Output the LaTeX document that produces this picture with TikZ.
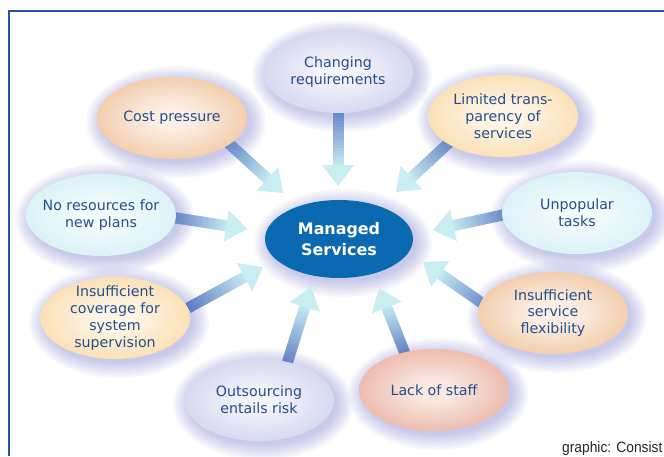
\documentclass[tikz,border=0pt]{standalone}
\usepackage{fontspec}
\setmainfont{DejaVu Sans}
\newfontfamily\condfont[FakeStretch=0.92]{Liberation Sans}
\usetikzlibrary{shapes.geometric,calc}
\pgfdeclarelayer{bg}
\pgfdeclarelayer{glow}
\pgfdeclarelayer{arrows}
\pgfsetlayers{bg,glow,arrows,main}

\definecolor{txtblue}{RGB}{36,78,140}
\definecolor{framec}{RGB}{40,85,165}
\definecolor{msblue}{RGB}{11,105,177}
\definecolor{glowc}{RGB}{115,115,205}
\definecolor{arrdark}{RGB}{95,125,195}
\definecolor{arrlight}{RGB}{200,236,242}
\definecolor{arrhead}{RGB}{200,238,242}
\definecolor{lavout}{RGB}{190,194,230}
\definecolor{lavin}{RGB}{242,243,251}
\definecolor{orgout}{RGB}{236,176,124}
\definecolor{orgin}{RGB}{252,240,230}
\definecolor{yelout}{RGB}{248,206,140}
\definecolor{yelin}{RGB}{254,245,230}
\definecolor{cyaout}{RGB}{198,236,242}
\definecolor{cyain}{RGB}{242,251,252}
\definecolor{salout}{RGB}{226,150,130}
\definecolor{salin}{RGB}{250,232,225}
\colorlet{ecin}{white}
\colorlet{ecout}{gray}
\pgfdeclareradialshading[ecin,ecout]{ellshade}{\pgfpoint{0bp}{0bp}}{color(0bp)=(ecin); color(6bp)=(ecin); color(42bp)=(ecout); color(50bp)=(ecout)}

\makeatletter
\newcommand\gradarrow[2]{%
  \pgfmathanglebetweenpoints{\pgfpointanchor{#1}{center}}{\pgfpointanchor{#2}{center}}%
  \edef\gaang{\pgfmathresult}%
  \pgfpointdiff{\pgfpointanchor{#1}{center}}{\pgfpointanchor{#2}{center}}%
  \pgfmathveclen{\pgf@x}{\pgf@y}%
  \edef\galen{\pgfmathresult}%
  \begin{scope}[shift={(#1)}, rotate=\gaang]
    \foreach \i in {0,...,19} {
      \pgfmathsetmacro\gaA{\i*(\galen-20)/20}
      \pgfmathsetmacro\gaB{(\i+1)*(\galen-20)/20+0.7}
      \pgfmathsetmacro\gaP{100-\i*5}
      \fill[arrdark!\gaP!arrlight] (\gaA pt,-5.5pt) rectangle (\gaB pt,5.5pt);
    }
    \fill[arrhead] (\galen pt-21pt,-16pt) -- (\galen pt,0pt) -- (\galen pt-21pt,16pt) -- cycle;
  \end{scope}}
\makeatother

\newcommand\glowell[3]{% node, rx, ry
  \begin{pgfonlayer}{glow}
    \foreach \k in {1,...,10}
      \fill[glowc, opacity=0.045] ([xshift=4pt,yshift=-4pt]#1.center) ellipse [x radius=#2-2+\k*1.7, y radius=#3-2+\k*1.7];
  \end{pgfonlayer}}

\tikzset{
  ell/.style 2 args={ellipse, minimum width=150pt, minimum height=82pt, inner sep=0pt,
    /utils/exec={\colorlet{ecout}{#1}\colorlet{ecin}{#2}}, shade, shading=ellshade},
  txt/.style={text=txtblue, align=center, inner sep=0pt, font=\fontsize{14.2}{16.8}\selectfont},
}

\begin{document}
\begin{tikzpicture}[x=1pt, y=-1pt]
\useasboundingbox (0,0) rectangle (664,456);
\begin{pgfonlayer}{bg}
\fill[white] (0,0) rectangle (664,456);
\end{pgfonlayer}
\draw[framec, line width=1.6pt] (664,11) -- (9,11) -- (9,456);

% outer ellipses
\node[ell={lavout}{lavin}] (cr) at (338,72) {};
\node[ell={orgout}{orgin}] (cp) at (172,118) {};
\node[ell={yelout}{yelin}] (lt) at (503,116) {};
\node[ell={cyaout}{cyain}] (nr) at (101,215) {};
\node[ell={cyaout}{cyain}] (ut) at (577,213) {};
\node[ell={yelout}{yelin}] (ic) at (115,318) {};
\node[ell={orgout}{orgin}] (sf) at (553,313) {};
\node[ell={lavout}{lavin}] (or) at (259,400) {};
\node[ell={salout}{salin}] (ls) at (434,390) {};
% centre
\node[ellipse, fill=msblue, minimum width=148pt, minimum height=78pt, inner sep=0pt] (ms) at (339,239) {};

% glows
\foreach \n in {cr,cp,lt,nr,ut,ic,sf,or,ls} {\glowell{\n}{75}{41}}
\glowell{ms}{74}{39}

% texts
\node[txt] (cr-t) at (cr) {Changing\\requirements};
\node[txt] (cp-t) at (cp) {Cost pressure};
\node[txt] (lt-t) at (lt) {Limited trans-\\parency of\\services};
\node[txt] (nr-t) at (nr) {No resources for\\new plans};
\node[txt] (ut-t) at (ut) {Unpopular\\tasks};
\node[txt] (ic-t) at (ic) {Insufficient\\coverage for\\system\\supervision};
\node[txt] (sf-t) at (sf) {Insufficient\\service\\flexibility};
\node[txt] (or-t) at (or) {Outsourcing\\entails risk};
\node[txt] (ls-t) at (ls) {Lack of staff};
\node[text=white, align=center, inner sep=0pt, font=\bfseries\fontsize{15.9}{21}\selectfont] (ms-t) at (ms) {Managed\\Services};

% arrows
\begin{pgfonlayer}{arrows}
  \coordinate (a1s) at (338,106); \coordinate (a1e) at (338,186);
  \coordinate (a2s) at (224,139); \coordinate (a2e) at (283,193);
  \coordinate (a3s) at (454,138); \coordinate (a3e) at (396,192);
  \coordinate (a4s) at (170,217); \coordinate (a4e) at (247,229);
  \coordinate (a5s) at (512,213); \coordinate (a5e) at (433,230);
  \coordinate (a6s) at (188,308); \coordinate (a6e) at (263,267);
  \coordinate (a7s) at (492,310); \coordinate (a7e) at (423,262);
  \coordinate (a8s) at (286,367); \coordinate (a8e) at (311,287);
  \coordinate (a9s) at (406,356); \coordinate (a9e) at (379,288);
  \foreach \j in {1,...,9} {\gradarrow{a\j s}{a\j e}}
\end{pgfonlayer}

\node[anchor=base west, inner sep=0pt, text=black!85, font=\condfont\fontsize{15}{17}\selectfont] (src) at (562,452) {graphic: Consist};
\end{tikzpicture}
\end{document}
